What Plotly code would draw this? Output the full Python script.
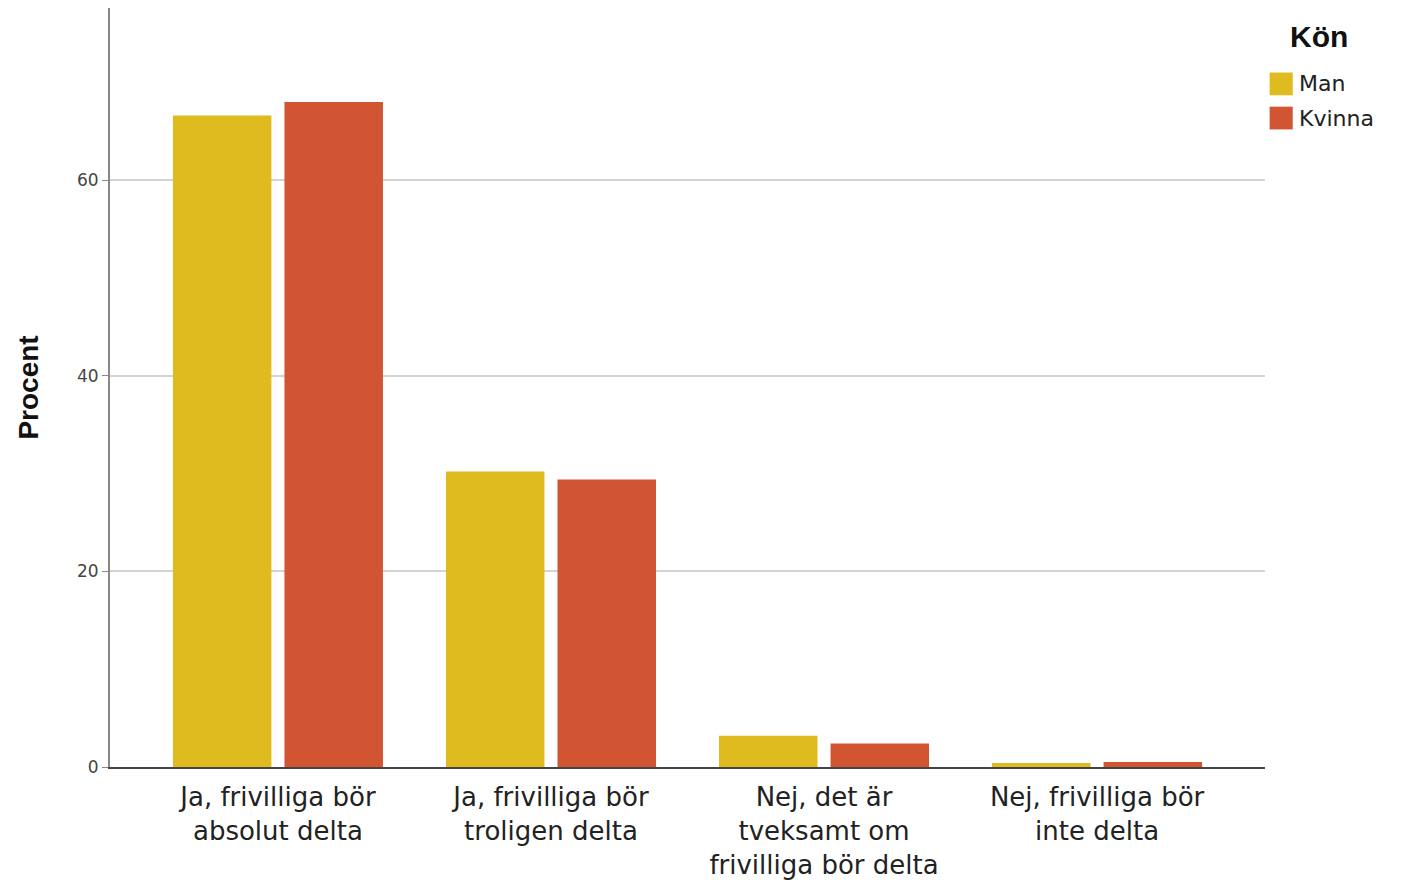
import plotly.graph_objects as go

categories = [
    "Ja, frivilliga bör<br>absolut delta",
    "Ja, frivilliga bör<br>troligen delta",
    "Nej, det är<br>tveksamt om<br>frivilliga bör delta",
    "Nej, frivilliga bör<br>inte delta",
]
series_names = ["Man", "Kvinna"]
man_values = [66.6, 30.2, 3.2, 0.4]
kvinna_values = [68.0, 29.4, 2.4, 0.5]
colors = ["#E0BB1F", "#D15433"]

fig = go.Figure()
for name, vals, col in zip(series_names, [man_values, kvinna_values], colors):
    fig.add_trace(go.Bar(
        x=categories, y=vals, name=name,
        marker=dict(color=col, line_width=0),
        showlegend=False,
    ))

# legend drawn by hand to get the big square swatches
legend_shapes = []
legend_notes = [dict(
    text="<b>Kön</b>", x=1.02, y=0.962, xref="paper", yref="paper",
    xanchor="left", yanchor="middle", showarrow=False,
    font=dict(size=30, color="#111", family="Liberation Sans, Arial"),
)]
for i, (name, col) in enumerate(zip(series_names, colors)):
    yc = 0.9 - i * 0.045
    legend_shapes.append(dict(
        type="rect", xref="paper", yref="paper",
        x0=1.004, x1=1.024, y0=yc - 0.015, y1=yc + 0.015,
        fillcolor=col, line_width=0,
    ))
    legend_notes.append(dict(
        text=name, x=1.028, y=yc, xref="paper", yref="paper",
        xanchor="left", yanchor="middle", showarrow=False,
        font=dict(size=22, color="#222"),
    ))

fig.update_layout(
    width=1402, height=880,
    template="plotly_white",
    paper_bgcolor="white",
    plot_bgcolor="white",
    margin=dict(l=102, r=145, t=0, b=121),
    barmode="group",
    bargap=0.183,
    bargroupgap=0.117,
    font=dict(family="DejaVu Sans, sans-serif"),
    shapes=legend_shapes,
    annotations=legend_notes,
    xaxis=dict(
        range=[-0.615, 3.615],
        showgrid=False,
        showline=True, linecolor="#444", linewidth=2,
        ticks="",
        tickfont=dict(size=26, color="#222"),
        ticklabelstandoff=6,
        zeroline=False,
    ),
    yaxis=dict(
        range=[0, 77.6],
        tickvals=[0, 20, 40, 60],
        showgrid=True, gridcolor="#D4D4D4", gridwidth=2,
        showline=True, linecolor="#888", linewidth=2,
        ticks="outside", ticklen=6, tickcolor="#888", tickwidth=1,
        tickfont=dict(size=17, color="#444"),
        zeroline=False,
        title=dict(text="<b>Procent</b>", font=dict(size=28, color="#111",
                   family="Liberation Sans, Arial"), standoff=30),
    ),
)

fig.write_html("out.html")
